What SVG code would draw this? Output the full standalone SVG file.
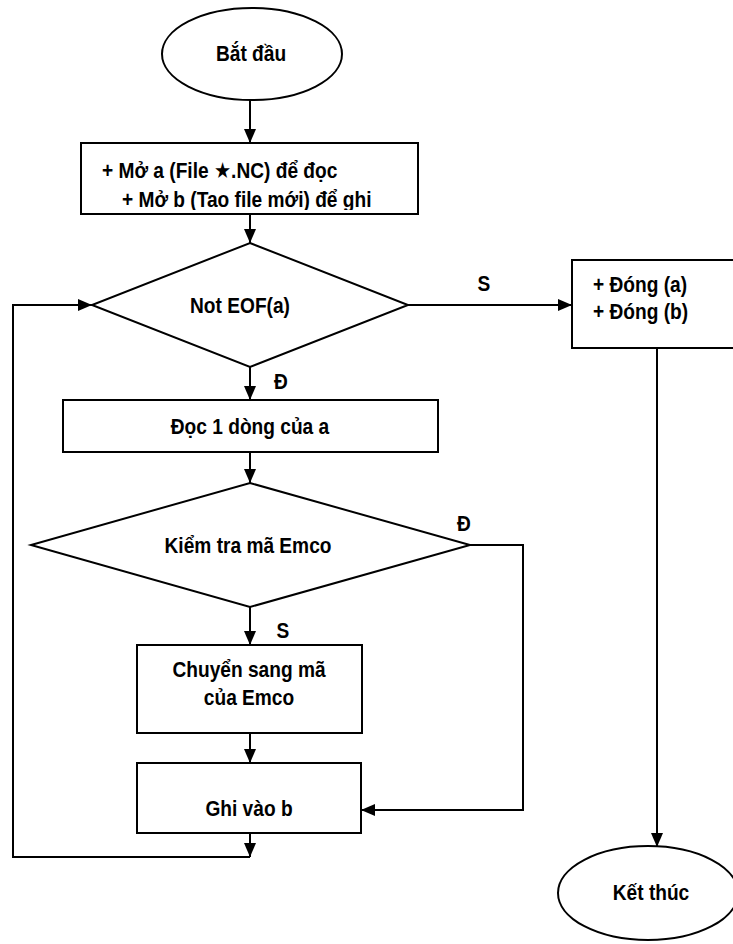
<svg xmlns="http://www.w3.org/2000/svg" width="733" height="944" viewBox="0 0 733 944">
<style>
.s{fill:#fff;stroke:#000;stroke-width:2}
.t{font-family:"Liberation Sans",Arial,"DejaVu Sans",sans-serif;font-weight:bold;font-size:22px;fill:#000}
.c{text-anchor:middle}
.l{fill:none;stroke:#000;stroke-width:2}
</style>
<defs>
<marker id="ah" markerUnits="userSpaceOnUse" markerWidth="14" markerHeight="12" refX="14" refY="6" orient="auto">
<path d="M0,0 L14,6 L0,12 Z" fill="#000"/>
</marker>
<clipPath id="cb1"><rect x="81" y="143" width="337" height="67"/></clipPath>
</defs>
<g id="start">
<ellipse class="s" cx="252" cy="54" rx="90" ry="46"/>
<text class="t c" transform="translate(251,61) scale(0.87,1)">Bắt đầu</text>
</g>
<g id="open">
<rect class="s" x="81" y="143" width="337" height="71"/>
<g clip-path="url(#cb1)">
<text class="t" transform="translate(102,178) scale(0.87,1)">+ Mở a (File ★.NC) để đọc</text>
<text class="t" transform="translate(122,207) scale(0.87,1)">+ Mở b (Tao file mới) để ghi</text>
</g>
</g>
<g id="eof">
<polygon class="s" points="250,243 408,305 250,367 92,305"/>
<text class="t c" transform="translate(240,313) scale(0.87,1)">Not EOF(a)</text>
</g>
<g id="close">
<rect class="s" x="572" y="260" width="165" height="88"/>
<text class="t" transform="translate(593,292) scale(0.87,1)">+ Đóng (a)</text>
<text class="t" transform="translate(593,319) scale(0.87,1)">+ Đóng (b)</text>
</g>
<g id="read">
<rect class="s" x="63" y="400" width="375" height="52"/>
<text class="t c" transform="translate(250,434) scale(0.87,1)">Đọc 1 dòng của a</text>
</g>
<g id="check">
<polygon class="s" points="250,483 470,545 250,607 31,545"/>
<text class="t c" transform="translate(248,553) scale(0.87,1)">Kiểm tra mã Emco</text>
</g>
<g id="convert">
<rect class="s" x="137" y="645" width="225" height="88"/>
<text class="t c" transform="translate(249,677) scale(0.87,1)">Chuyển sang mã</text>
<text class="t c" transform="translate(249,705) scale(0.87,1)">của Emco</text>
</g>
<g id="write">
<rect class="s" x="137" y="763" width="224" height="70"/>
<text class="t c" transform="translate(249,816) scale(0.87,1)">Ghi vào b</text>
</g>
<g id="end">
<ellipse class="s" cx="648" cy="893" rx="90" ry="47"/>
<text class="t c" transform="translate(651,900) scale(0.87,1)">Kết thúc</text>
</g>
<g id="connectors">
<line class="l" x1="250" y1="100" x2="250" y2="143" marker-end="url(#ah)"/>
<line class="l" x1="250" y1="214" x2="250" y2="243" marker-end="url(#ah)"/>
<line class="l" x1="408" y1="305" x2="572" y2="305" marker-end="url(#ah)"/>
<line class="l" x1="250" y1="367" x2="250" y2="400" marker-end="url(#ah)"/>
<line class="l" x1="250" y1="452" x2="250" y2="483" marker-end="url(#ah)"/>
<line class="l" x1="250" y1="607" x2="250" y2="645" marker-end="url(#ah)"/>
<line class="l" x1="250" y1="733" x2="250" y2="763" marker-end="url(#ah)"/>
<line class="l" x1="250" y1="833" x2="250" y2="857" marker-end="url(#ah)"/>
<polyline class="l" points="250,857 13,857 13,305 92,305" marker-end="url(#ah)"/>
<polyline class="l" points="470,545 523,545 523,810 361,810" marker-end="url(#ah)"/>
<line class="l" x1="657" y1="348" x2="657" y2="847" marker-end="url(#ah)"/>
<text class="t c" transform="translate(484,291) scale(0.87,1)">S</text>
<text class="t c" transform="translate(281,389) scale(0.87,1)">Đ</text>
<text class="t c" transform="translate(464,531) scale(0.87,1)">Đ</text>
<text class="t c" transform="translate(283,638) scale(0.87,1)">S</text>
</g>
</svg>
